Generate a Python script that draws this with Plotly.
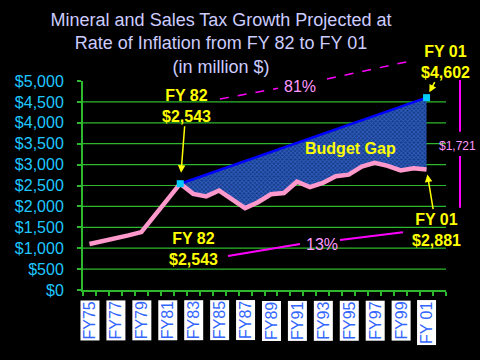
import plotly.graph_objects as go

# ---- data ----
years = ["FY75", "FY76", "FY77", "FY78", "FY79", "FY80", "FY81", "FY82", "FY83",
         "FY84", "FY85", "FY86", "FY87", "FY88", "FY89", "FY90", "FY91", "FY92",
         "FY93", "FY94", "FY95", "FY96", "FY97", "FY98", "FY99", "FY00", "FY01"]
revenue = [1100, 1160, 1235, 1307, 1385, 1780, 2160, 2543, 2300, 2240, 2380, 2180,
           1960, 2100, 2290, 2320, 2590, 2460, 2560, 2720, 2760, 2950, 3040, 2970,
           2860, 2910, 2881]
inflation_years = ["FY82", "FY01"]
inflation_values = [2543, 4602]
tick_labels = ["FY75", "FY77", "FY79", "FY81", "FY83", "FY85", "FY87", "FY89",
               "FY91", "FY93", "FY95", "FY97", "FY99", "FY 01"]
tick_years = ["FY75", "FY77", "FY79", "FY81", "FY83", "FY85", "FY87", "FY89",
              "FY91", "FY93", "FY95", "FY97", "FY99", "FY01"]
grid_values = [500, 1000, 1500, 2000, 2500, 3000, 3500, 4000, 4500]

idx = {y: i for i, y in enumerate(years)}
xs = list(range(len(years)))
start = idx["FY82"]
gap_x = xs[start:]
gap_y = revenue[start:]
infl_x = [idx[y] for y in inflation_years]

FONT = "Liberation Sans"
YELLOW = "#ffff00"
GREEN = "#2db82d"
PINKTXT = "#ff99ff"
MAGENTA = "#ff00ff"

# plot area in pixels (for decorations)
L, R, T, B = 83, 446, 81, 290
def P(xp, yp):
    return (xp - L) / (R - L), (B - yp) / (B - T)

fig = go.Figure()
# lower edge of the gap (invisible)
fig.add_trace(go.Scatter(x=gap_x, y=gap_y, mode="lines", line=dict(width=0),
                         hoverinfo="skip", showlegend=False))
# inflation projection line with hatched gap fill
fig.add_trace(go.Scatter(x=infl_x, y=inflation_values, mode="lines",
                         line=dict(color="#0000ff", width=2.5),
                         fill="tonexty",
                         fillpattern=dict(shape="x", fgcolor="#4a86ff", bgcolor="#163a86",
                                          size=3, solidity=0.5),
                         showlegend=False))
# actual revenue
fig.add_trace(go.Scatter(x=xs, y=revenue, mode="lines",
                         line=dict(color="#ff99cc", width=4.5),
                         showlegend=False))
# endpoint markers
fig.add_trace(go.Scatter(x=infl_x, y=inflation_values, mode="markers",
                         marker=dict(color="#00ccff", size=7, symbol="square"),
                         showlegend=False))

# grid lines
for g in grid_values:
    fig.add_shape(type="line", xref="paper", x0=0, x1=1, yref="y", y0=g, y1=g,
                  line=dict(color=GREEN, width=1.2), layer="below")

# x tick labels in white boxes
for lab, yr in zip(tick_labels, tick_years):
    fig.add_annotation(x=idx[yr], y=0, xref="x", yref="paper", yanchor="top",
                       xanchor="center", yshift=-10, text=lab, textangle=-90,
                       showarrow=False, bgcolor="#ffffff", borderpad=0.5,
                       font=dict(family=FONT, size=16, color="#3366ff"))

tf = dict(family=FONT, size=16, color=YELLOW, weight="bold")
fig.add_annotation(x=idx["FY82"], y=2543, text="FY 82<br>$2,543", font=tf,
                   showarrow=True, ax=6, ay=-78, arrowcolor=YELLOW, arrowwidth=1.5,
                   arrowhead=2, arrowsize=1, standoff=11)
fig.add_annotation(x=idx["FY01"], y=4602, text="FY 01<br>$4,602", font=tf,
                   showarrow=True, ax=19, ay=-36, arrowcolor=YELLOW, arrowwidth=1.5,
                   arrowhead=2, arrowsize=1, standoff=6)
fig.add_annotation(x=idx["FY01"], y=2881, text="FY 01<br>$2,881", font=tf,
                   showarrow=True, ax=10, ay=60, arrowcolor=YELLOW, arrowwidth=1.5,
                   arrowhead=2, arrowsize=1, standoff=5)

def text_at(xp, yp, txt, font):
    px, py = P(xp, yp)
    fig.add_annotation(x=px, y=py, xref="paper", yref="paper", text=txt, font=font,
                       showarrow=False, xanchor="center", yanchor="middle")

text_at(350, 148, "Budget Gap", tf)
text_at(193.5, 249, "FY 82<br>$2,543", tf)
text_at(300, 86, "81%", dict(family=FONT, size=16, color=PINKTXT))
text_at(322, 244, "13%", dict(family=FONT, size=16, color=PINKTXT))
text_at(457, 146, "$1,721", dict(family=FONT, size=12, color=PINKTXT))

def seg(x0, y0, x1, y1, dash="solid", width=2):
    a, b = P(x0, y0)
    c, d = P(x1, y1)
    fig.add_shape(type="line", xref="paper", yref="paper", x0=a, y0=b, x1=c, y1=d,
                  line=dict(color=MAGENTA, width=width, dash=dash))

seg(220, 99, 278, 88.3, dash="dash", width=1.5)
seg(327, 79, 412, 60.7, dash="dash", width=1.5)
seg(228, 256, 300, 244)
seg(340, 240, 403, 232.3)
seg(460, 80, 460, 131.7)
seg(460, 156, 460, 207.7)

fig.update_layout(
    width=480, height=360,
    paper_bgcolor="#000000", plot_bgcolor="#000000",
    margin=dict(l=L, r=480 - R, t=T, b=360 - B, pad=0),
    title=dict(text="Mineral and Sales Tax Growth Projected at<br>Rate of Inflation from FY 82 to FY 01<br>(in million $)",
               x=221 / 480, xanchor="center", xref="container",
               y=1 - 26 / 360, yanchor="top", yref="container",
               font=dict(family=FONT, size=18, color="#ccccff")),
    showlegend=False,
)
fig.update_xaxes(range=[-0.5, len(years) + 0.5], showgrid=False, zeroline=False,
                 showline=True, linecolor=GREEN, linewidth=2,
                 ticks="outside", ticklen=4, tickcolor=GREEN, tickwidth=1.5,
                 tickmode="linear", tick0=-0.5, dtick=1, showticklabels=False)
fig.update_yaxes(range=[0, 5000], showgrid=False, zeroline=False,
                 showline=True, linecolor=GREEN, linewidth=2,
                 ticks="outside", ticklen=4, tickcolor=GREEN, tickwidth=1.5,
                 tickmode="linear", tick0=0, dtick=500,
                 tickprefix="$", tickformat=",d", ticklabelstandoff=10,
                 tickfont=dict(family=FONT, size=16, color="#1ec8ff"))

fig.write_html("out.html", config={"displayModeBar": False},
               post_script="document.body.style.margin='0';document.body.style.background='#000';")
